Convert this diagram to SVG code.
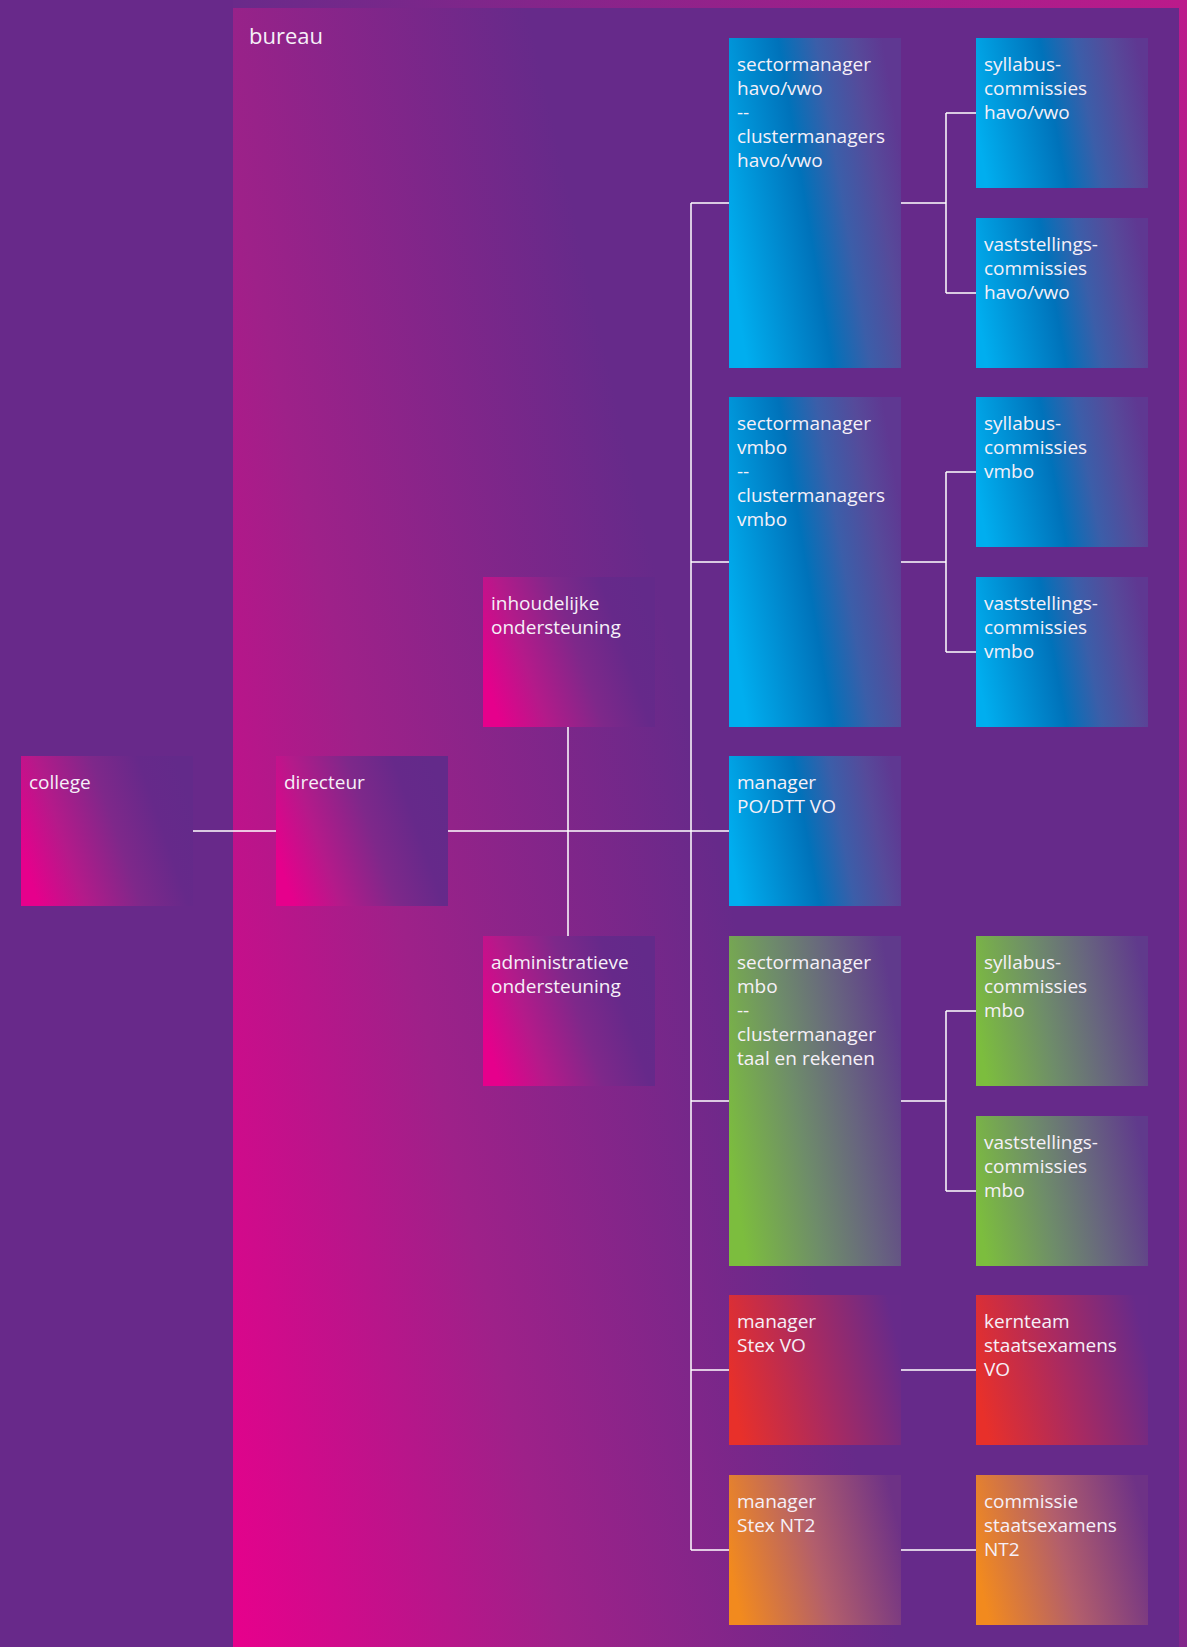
<svg xmlns="http://www.w3.org/2000/svg" width="1187" height="1647" viewBox="0 0 1187 1647">
<style>
.t{font-family:"Open Sans","Noto Sans","DejaVu Sans",sans-serif;font-size:19px;fill:#f6f0f8}
.title{font-family:"Open Sans","Noto Sans","DejaVu Sans",sans-serif;font-size:22px;fill:#f6f0f8}
.c{fill:none;stroke:#ffffff;stroke-width:1.5}
</style>
<defs>
<linearGradient id="gFrame" gradientUnits="userSpaceOnUse" x1="1187" y1="0" x2="369" y2="331">
<stop offset="0" stop-color="#bc1a8b"/><stop offset="1" stop-color="#6a2a8a"/>
</linearGradient>
<linearGradient id="gBureau" gradientUnits="userSpaceOnUse" x1="233" y1="1647" x2="867" y2="1503">
<stop offset="0" stop-color="#e8008c"/><stop offset="0.5" stop-color="#9e2189"/><stop offset="1" stop-color="#662a8a"/>
</linearGradient>
<linearGradient id="pinkS" x1="0" y1="0.65" x2="1" y2="0.35">
<stop offset="0" stop-color="#e6008c"/><stop offset="0.25" stop-color="#b41a8a"/><stop offset="0.55" stop-color="#7e288a"/><stop offset="0.8" stop-color="#66298a"/><stop offset="1" stop-color="#632a8a"/>
</linearGradient>
<linearGradient id="blueS" x1="0" y1="0.58" x2="1" y2="0.42">
<stop offset="0" stop-color="#00aeef"/><stop offset="0.45" stop-color="#0072ba"/><stop offset="0.65" stop-color="#3b5ea9"/><stop offset="0.85" stop-color="#564a9a"/><stop offset="1" stop-color="#5f3892"/>
</linearGradient>
<linearGradient id="greenS" x1="0" y1="0.58" x2="1" y2="0.42">
<stop offset="0" stop-color="#7cbd3e"/><stop offset="0.4" stop-color="#6e8c6a"/><stop offset="0.7" stop-color="#67647f"/><stop offset="1" stop-color="#603a8c"/>
</linearGradient>
<linearGradient id="redS" x1="0" y1="0.6" x2="1" y2="0.4">
<stop offset="0" stop-color="#e8302a"/><stop offset="0.5" stop-color="#aa2a60"/><stop offset="1" stop-color="#672a8a"/>
</linearGradient>
<linearGradient id="orangeS" x1="0" y1="0.6" x2="1" y2="0.4">
<stop offset="0" stop-color="#f28a1e"/><stop offset="0.5" stop-color="#b25e6c"/><stop offset="1" stop-color="#6e3286"/>
</linearGradient>
<linearGradient id="blueT" x1="0" y1="0.66" x2="1" y2="0.34">
<stop offset="0" stop-color="#00aeef"/><stop offset="0.45" stop-color="#0072ba"/><stop offset="0.65" stop-color="#3b5ea9"/><stop offset="0.85" stop-color="#564a9a"/><stop offset="1" stop-color="#5f3892"/>
</linearGradient>
<linearGradient id="greenT" x1="0" y1="0.66" x2="1" y2="0.34">
<stop offset="0" stop-color="#7cbd3e"/><stop offset="0.4" stop-color="#6e8c6a"/><stop offset="0.7" stop-color="#67647f"/><stop offset="1" stop-color="#603a8c"/>
</linearGradient>
</defs>

<rect x="0" y="0" width="1187" height="1647" fill="#68298a"/>
<g id="bureau">
<rect x="233" y="0" width="954" height="1647" fill="url(#gFrame)"/>
<rect x="233" y="8" width="946" height="1639" fill="url(#gBureau)"/>
<text class="title" x="249" y="44">bureau</text>
</g>

<g id="connectors">
<path class="c" d="M193 831H276M447 831H729M568 727V936"/>
<path class="c" d="M691 203V1550M691 203H729M691 562H729M691 1101H729M691 1370H729M691 1550H729"/>
<path class="c" d="M901 203H946M946 113V293M946 113H976M946 293H976"/>
<path class="c" d="M901 562H946M946 472V652M946 472H976M946 652H976"/>
<path class="c" d="M901 1101H946M946 1011V1191M946 1011H976M946 1191H976"/>
<path class="c" d="M901 1370H976M901 1550H976"/>
</g>

<g id="college"><rect x="21" y="756" width="172" height="150" fill="url(#pinkS)"/>
<text class="t" x="29" y="789">college</text></g>

<g id="directeur"><rect x="276" y="756" width="172" height="150" fill="url(#pinkS)"/>
<text class="t" x="284" y="789">directeur</text></g>

<g id="inhoudelijke-ondersteuning"><rect x="483" y="577" width="172" height="150" fill="url(#pinkS)"/>
<text class="t" x="491" y="610">inhoudelijke</text><text class="t" x="491" y="634">ondersteuning</text></g>

<g id="administratieve-ondersteuning"><rect x="483" y="936" width="172" height="150" fill="url(#pinkS)"/>
<text class="t" x="491" y="969">administratieve</text><text class="t" x="491" y="993">ondersteuning</text></g>

<g id="sectormanager-havovwo"><rect x="729" y="38" width="172" height="330" fill="url(#blueT)"/>
<text class="t" x="737" y="71">sectormanager</text><text class="t" x="737" y="95">havo/vwo</text><text class="t" x="737" y="119">--</text><text class="t" x="737" y="143">clustermanagers</text><text class="t" x="737" y="167">havo/vwo</text></g>

<g id="syllabus-havovwo"><rect x="976" y="38" width="172" height="150" fill="url(#blueS)"/>
<text class="t" x="984" y="71">syllabus-</text><text class="t" x="984" y="95">commissies</text><text class="t" x="984" y="119">havo/vwo</text></g>

<g id="vaststellings-havovwo"><rect x="976" y="218" width="172" height="150" fill="url(#blueS)"/>
<text class="t" x="984" y="251">vaststellings-</text><text class="t" x="984" y="275">commissies</text><text class="t" x="984" y="299">havo/vwo</text></g>

<g id="sectormanager-vmbo"><rect x="729" y="397" width="172" height="330" fill="url(#blueT)"/>
<text class="t" x="737" y="430">sectormanager</text><text class="t" x="737" y="454">vmbo</text><text class="t" x="737" y="478">--</text><text class="t" x="737" y="502">clustermanagers</text><text class="t" x="737" y="526">vmbo</text></g>

<g id="syllabus-vmbo"><rect x="976" y="397" width="172" height="150" fill="url(#blueS)"/>
<text class="t" x="984" y="430">syllabus-</text><text class="t" x="984" y="454">commissies</text><text class="t" x="984" y="478">vmbo</text></g>

<g id="vaststellings-vmbo"><rect x="976" y="577" width="172" height="150" fill="url(#blueS)"/>
<text class="t" x="984" y="610">vaststellings-</text><text class="t" x="984" y="634">commissies</text><text class="t" x="984" y="658">vmbo</text></g>

<g id="manager-po-dtt-vo"><rect x="729" y="756" width="172" height="150" fill="url(#blueS)"/>
<text class="t" x="737" y="789">manager</text><text class="t" x="737" y="813">PO/DTT VO</text></g>

<g id="sectormanager-mbo"><rect x="729" y="936" width="172" height="330" fill="url(#greenT)"/>
<text class="t" x="737" y="969">sectormanager</text><text class="t" x="737" y="993">mbo</text><text class="t" x="737" y="1017">--</text><text class="t" x="737" y="1041">clustermanager</text><text class="t" x="737" y="1065">taal en rekenen</text></g>

<g id="syllabus-mbo"><rect x="976" y="936" width="172" height="150" fill="url(#greenS)"/>
<text class="t" x="984" y="969">syllabus-</text><text class="t" x="984" y="993">commissies</text><text class="t" x="984" y="1017">mbo</text></g>

<g id="vaststellings-mbo"><rect x="976" y="1116" width="172" height="150" fill="url(#greenS)"/>
<text class="t" x="984" y="1149">vaststellings-</text><text class="t" x="984" y="1173">commissies</text><text class="t" x="984" y="1197">mbo</text></g>

<g id="manager-stex-vo"><rect x="729" y="1295" width="172" height="150" fill="url(#redS)"/>
<text class="t" x="737" y="1328">manager</text><text class="t" x="737" y="1352">Stex VO</text></g>

<g id="kernteam-staatsexamens-vo"><rect x="976" y="1295" width="172" height="150" fill="url(#redS)"/>
<text class="t" x="984" y="1328">kernteam</text><text class="t" x="984" y="1352">staatsexamens</text><text class="t" x="984" y="1376">VO</text></g>

<g id="manager-stex-nt2"><rect x="729" y="1475" width="172" height="150" fill="url(#orangeS)"/>
<text class="t" x="737" y="1508">manager</text><text class="t" x="737" y="1532">Stex NT2</text></g>

<g id="commissie-staatsexamens-nt2"><rect x="976" y="1475" width="172" height="150" fill="url(#orangeS)"/>
<text class="t" x="984" y="1508">commissie</text><text class="t" x="984" y="1532">staatsexamens</text><text class="t" x="984" y="1556">NT2</text></g>
</svg>
